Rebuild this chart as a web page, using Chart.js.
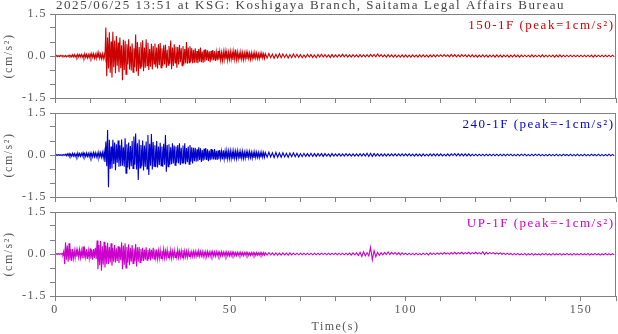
<!DOCTYPE html>
<html lang="en">
<head>
<meta charset="UTF-8">
<title>KSG waveform</title>
<script src="https://cdn.jsdelivr.net/npm/chart.js@4.4.1/dist/chart.umd.min.js"></script>
<style>
  body { margin: 0; background: #fff; }
  #wrap { position: relative; width: 618px; height: 334px; overflow: hidden; }
  #wrap canvas { position: absolute; left: 0; }
</style>
</head>
<body>
<div id="wrap">
  <canvas id="c1" width="618" height="112" style="top:0px"></canvas>
  <canvas id="c2" width="618" height="112" style="top:99px"></canvas>
  <canvas id="c3" width="618" height="136" style="top:198px"></canvas>
</div>
<script>
// traces: 0.25 s steps up to 60 s, 0.5 s steps after
var DT_EARLY = 0.25;
var DT_LATE = 0.5;
var T_SPLIT = 60;
var titleText = '2025/06/25 13:51 at KSG: Koshigaya Branch, Saitama Legal Affairs Bureau';
var compNames = ['150-1F (peak=1cm/s\u00B2)', '240-1F (peak=-1cm/s\u00B2)', 'UP-1F (peak=-1cm/s\u00B2)'];
var compColors = ['#cc0000', '#0000cc', '#cc00cc'];
var xTickLabels = [0, 50, 100, 150];
var yTickLabels = [1.5, 0, -1.5];
var yUnit = '(cm/s\u00B2)';
var xTitle = 'Time(s)';

// 150-1F, 0-60 s, one row = 5 s
var nsEarly = [
  0.01,-0.01,0.02,-0.02,0.01,-0.02,0.02,-0.01,0.02,-0.02,0.01,-0.02,0.02,-0.03,0.01,-0.02,0.03,-0.02,0.02,-0.03,
  0.04,-0.03,0.05,-0.04,0.03,-0.05,0.06,-0.04,0.05,-0.03,0.06,-0.05,0.04,-0.06,0.08,-0.05,0.06,-0.07,0.05,-0.06,
  0.07,-0.06,0.09,-0.05,0.08,-0.08,0.06,-0.09,0.10,-0.07,0.12,-0.08,0.07,-0.09,0.08,-0.10,0.06,-0.08,1.02,-0.72,
  0.66,-0.45,0.85,-0.60,0.52,-0.77,0.87,-0.40,0.55,-0.62,0.71,-0.35,0.48,-0.58,0.66,-0.44,0.38,-0.87,0.58,-0.50,
  0.54,-0.65,0.42,-0.30,0.60,-0.48,0.35,-0.52,0.45,-0.58,0.28,-0.40,0.77,-0.55,0.50,-0.71,0.32,-0.44,0.49,-0.38,
  0.56,-0.54,0.30,-0.42,0.60,-0.35,0.47,-0.50,0.25,-0.38,0.44,-0.48,0.36,-0.28,0.45,-0.40,0.30,-0.45,0.42,-0.33,
  0.46,-0.42,0.28,-0.35,0.38,-0.30,0.40,-0.42,0.22,-0.33,0.36,-0.28,0.55,-0.47,0.30,-0.36,0.42,-0.25,0.33,-0.42,
  0.32,-0.30,0.40,-0.22,0.28,-0.35,0.36,-0.30,0.25,-0.26,0.50,-0.28,0.30,-0.24,0.35,-0.20,0.28,-0.26,0.22,-0.24,
  0.28,-0.24,0.18,-0.26,0.25,-0.20,0.30,-0.22,0.16,-0.24,0.22,-0.20,0.24,-0.15,0.20,-0.18,0.17,-0.22,0.19,-0.16,
  0.21,-0.15,0.17,-0.18,0.14,-0.16,0.18,-0.13,0.16,-0.15,0.12,-0.16,0.15,-0.13,0.17,-0.12,0.14,-0.15,0.13,-0.12,
  0.16,-0.12,0.13,-0.14,0.17,-0.11,0.23,-0.12,0.14,-0.13,0.10,-0.12,0.14,-0.11,0.12,-0.13,0.11,-0.10,0.13,-0.11,
  0.12,-0.09,0.10,-0.12,0.11,-0.10,0.09,-0.11,0.12,-0.08,0.10,-0.09,0.08,-0.10,0.09,-0.08,0.10,-0.07,0.08,-0.09
];
// 150-1F, 60-160 s, one row = 10 s
var nsLate = [
  0.08,-0.07,0.09,-0.06,0.07,-0.08,0.06,-0.07,0.08,-0.06,0.07,-0.05,0.06,-0.07,0.05,-0.06,0.07,-0.05,0.06,-0.05,
  0.05,-0.06,0.04,-0.05,0.06,-0.04,0.05,-0.05,0.04,-0.06,0.05,-0.04,0.06,-0.04,0.05,-0.04,0.04,-0.05,0.05,-0.04,
  0.04,-0.04,0.05,-0.03,0.06,-0.03,0.05,-0.04,0.04,-0.04,0.05,-0.03,0.04,-0.04,0.05,-0.03,0.04,-0.03,0.05,-0.03,
  0.06,-0.02,0.05,-0.03,0.07,-0.02,0.05,-0.03,0.04,-0.04,0.05,-0.03,0.04,-0.04,0.04,-0.04,0.03,-0.04,0.04,-0.04,
  0.04,-0.04,0.03,-0.04,0.04,-0.03,0.03,-0.04,0.04,-0.03,0.04,-0.03,0.03,-0.04,0.04,-0.03,0.04,-0.03,0.04,-0.02,
  0.04,-0.02,0.05,-0.02,0.04,-0.03,0.06,-0.02,0.05,-0.03,0.04,-0.03,0.05,-0.02,0.04,-0.03,0.04,-0.03,0.04,-0.03,
  0.03,-0.04,0.03,-0.03,0.04,-0.03,0.03,-0.04,0.03,-0.03,0.03,-0.04,0.04,-0.03,0.03,-0.04,0.03,-0.03,0.03,-0.04,
  0.03,-0.03,0.04,-0.03,0.03,-0.04,0.03,-0.03,0.03,-0.03,0.03,-0.03,0.04,-0.03,0.03,-0.03,0.03,-0.03,0.04,-0.03,
  0.03,-0.03,0.03,-0.03,0.03,-0.04,0.03,-0.03,0.04,-0.03,0.03,-0.03,0.03,-0.03,0.03,-0.03,0.03,-0.03,0.03,-0.03,
  0.03,-0.03,0.03,-0.03,0.03,-0.03,0.03,-0.04,0.03,-0.03,0.03,-0.03,0.03,-0.03,0.03,-0.03,0.03,-0.03,0.03,-0.03
];

// 240-1F
var ewEarly = [
  0.01,-0.01,0.01,-0.01,0.01,-0.01,0.01,-0.02,0.01,-0.01,0.02,-0.01,0.03,-0.03,0.04,-0.03,0.05,-0.04,0.03,-0.05,
  0.06,-0.04,0.05,-0.05,0.04,-0.06,0.07,-0.04,0.05,-0.05,0.06,-0.04,0.08,-0.05,0.05,-0.06,0.07,-0.05,0.06,-0.06,
  0.07,-0.08,0.06,-0.07,0.09,-0.06,0.08,-0.07,0.06,-0.09,0.10,-0.07,0.08,-0.08,0.09,-0.10,0.12,-0.25,0.48,-0.40,
  0.89,-1.15,0.54,-0.50,0.30,-0.48,0.54,-0.32,0.45,-0.54,0.38,-0.28,0.52,-0.42,0.35,-0.40,0.55,-0.38,0.28,-0.42,
  0.60,-0.65,0.38,-0.45,0.45,-0.52,0.32,-0.40,0.50,-0.48,0.66,-0.35,0.77,-0.52,0.42,-0.89,0.55,-0.46,0.36,-0.40,
  0.52,-0.55,0.34,-0.42,0.48,-0.50,0.71,-0.71,0.40,-0.38,0.75,-0.52,0.46,-0.40,0.35,-0.44,0.50,-0.45,0.30,-0.36,
  0.44,-0.38,0.30,-0.42,0.40,-0.35,0.71,-0.60,0.36,-0.42,0.38,-0.35,0.28,-0.33,0.42,-0.30,0.34,-0.36,0.30,-0.28,
  0.36,-0.30,0.42,-0.36,0.26,-0.28,0.34,-0.30,0.42,-0.33,0.25,-0.26,0.30,-0.33,0.36,-0.24,0.28,-0.30,0.26,-0.22,
  0.26,-0.24,0.20,-0.22,0.28,-0.18,0.24,-0.25,0.18,-0.20,0.22,-0.17,0.25,-0.18,0.20,-0.22,0.16,-0.19,0.21,-0.16,
  0.18,-0.16,0.21,-0.17,0.15,-0.18,0.16,-0.15,0.18,-0.12,0.14,-0.16,0.17,-0.14,0.13,-0.15,0.15,-0.13,0.14,-0.12,
  0.15,-0.13,0.12,-0.15,0.14,-0.11,0.13,-0.12,0.15,-0.10,0.11,-0.13,0.12,-0.11,0.13,-0.12,0.10,-0.11,0.12,-0.10,
  0.11,-0.10,0.12,-0.09,0.10,-0.11,0.09,-0.10,0.11,-0.09,0.10,-0.08,0.09,-0.10,0.08,-0.09,0.10,-0.08,0.09,-0.08
];
var ewLate = [
  0.09,-0.08,0.10,-0.07,0.08,-0.09,0.09,-0.08,0.07,-0.08,0.08,-0.07,0.06,-0.08,0.07,-0.06,0.08,-0.06,0.06,-0.07,
  0.05,-0.06,0.06,-0.05,0.05,-0.05,0.06,-0.05,0.05,-0.05,0.05,-0.04,0.05,-0.05,0.05,-0.04,0.04,-0.05,0.05,-0.04,
  0.04,-0.04,0.05,-0.04,0.04,-0.04,0.05,-0.03,0.04,-0.04,0.04,-0.04,0.04,-0.04,0.05,-0.04,0.05,-0.04,0.06,-0.05,
  0.06,-0.05,0.05,-0.04,0.05,-0.04,0.04,-0.04,0.04,-0.04,0.04,-0.03,0.04,-0.03,0.04,-0.03,0.04,-0.03,0.04,-0.03,
  0.04,-0.03,0.04,-0.03,0.03,-0.04,0.04,-0.03,0.03,-0.04,0.04,-0.03,0.03,-0.03,0.04,-0.03,0.04,-0.03,0.04,-0.03,
  0.04,-0.03,0.03,-0.03,0.04,-0.03,0.04,-0.02,0.05,-0.03,0.05,-0.03,0.04,-0.03,0.04,-0.03,0.04,-0.03,0.03,-0.03,
  0.03,-0.03,0.03,-0.03,0.03,-0.03,0.03,-0.03,0.03,-0.03,0.03,-0.03,0.03,-0.03,0.03,-0.03,0.03,-0.03,0.03,-0.02,
  0.03,-0.03,0.02,-0.03,0.03,-0.03,0.03,-0.02,0.03,-0.03,0.02,-0.03,0.03,-0.03,0.03,-0.02,0.03,-0.03,0.02,-0.03,
  0.02,-0.03,0.03,-0.03,0.02,-0.03,0.03,-0.03,0.02,-0.03,0.03,-0.02,0.02,-0.03,0.03,-0.03,0.02,-0.03,0.03,-0.03,
  0.02,-0.03,0.03,-0.03,0.02,-0.03,0.03,-0.02,0.02,-0.03,0.03,-0.03,0.02,-0.03,0.02,-0.03,0.03,-0.03,0.02,-0.03
];

// UP-1F
var udEarly = [
  0.01,-0.01,0.01,-0.01,0.01,-0.01,0.01,-0.01,0.02,-0.02,0.10,-0.36,0.42,-0.20,0.30,-0.28,0.38,-0.22,0.18,-0.25,
  0.18,-0.15,0.12,-0.14,0.15,-0.10,0.13,-0.12,0.16,-0.13,0.12,-0.15,0.27,-0.16,0.14,-0.12,0.17,-0.18,0.13,-0.15,
  0.20,-0.17,0.15,-0.20,0.18,-0.14,0.22,-0.18,0.48,-0.54,0.32,-0.40,0.46,-0.60,0.28,-0.38,0.44,-0.48,0.30,-0.36,
  0.40,-0.36,0.25,-0.30,0.38,-0.42,0.22,-0.28,0.32,-0.30,0.20,-0.25,0.28,-0.32,0.24,-0.22,0.42,-0.54,0.30,-0.38,
  0.38,-0.50,0.25,-0.30,0.35,-0.40,0.22,-0.28,0.32,-0.34,0.20,-0.26,0.36,-0.45,0.24,-0.28,0.25,-0.30,0.18,-0.24,
  0.22,-0.25,0.16,-0.20,0.24,-0.22,0.14,-0.18,0.20,-0.23,0.15,-0.17,0.22,-0.18,0.16,-0.14,0.16,-0.17,0.12,-0.15,
  0.15,-0.16,0.12,-0.13,0.17,-0.14,0.11,-0.12,0.15,-0.13,0.10,-0.12,0.14,-0.15,0.10,-0.11,0.13,-0.12,0.09,-0.12,
  0.15,-0.12,0.10,-0.11,0.12,-0.13,0.14,-0.12,0.11,-0.10,0.10,-0.12,0.11,-0.09,0.10,-0.10,0.09,-0.09,0.10,-0.08,
  0.10,-0.09,0.08,-0.10,0.11,-0.08,0.09,-0.07,0.09,-0.10,0.07,-0.08,0.08,-0.09,0.09,-0.07,0.07,-0.08,0.08,-0.07,
  0.08,-0.07,0.07,-0.08,0.08,-0.06,0.07,-0.07,0.06,-0.07,0.08,-0.06,0.07,-0.06,0.06,-0.07,0.07,-0.06,0.06,-0.07,
  0.06,-0.06,0.07,-0.05,0.06,-0.06,0.05,-0.06,0.06,-0.05,0.05,-0.05,0.06,-0.05,0.05,-0.06,0.05,-0.04,0.06,-0.05,
  0.05,-0.05,0.04,-0.05,0.05,-0.04,0.05,-0.05,0.04,-0.05,0.05,-0.04,0.04,-0.04,0.05,-0.04,0.04,-0.04,0.05,-0.04
];
var udLate = [
  0.04,-0.04,0.05,-0.03,0.04,-0.04,0.04,-0.04,0.03,-0.04,0.04,-0.03,0.03,-0.04,0.04,-0.03,0.03,-0.03,0.03,-0.03,
  0.03,-0.03,0.03,-0.03,0.03,-0.03,0.03,-0.03,0.03,-0.03,0.03,-0.03,0.03,-0.02,0.03,-0.03,0.03,-0.03,0.03,-0.02,
  0.03,-0.03,0.03,-0.03,0.03,-0.03,0.03,-0.03,0.03,-0.04,0.04,-0.03,0.04,-0.05,0.06,-0.09,0.08,-0.06,0.05,-0.07,
  0.24,-0.21,0.12,-0.10,0.06,-0.05,0.05,-0.03,0.06,-0.02,0.07,-0.02,0.06,-0.01,0.05,-0.02,0.05,-0.03,0.04,-0.02,
  0.03,-0.03,0.03,-0.03,0.02,-0.03,0.03,-0.03,0.02,-0.03,0.03,-0.02,0.03,-0.03,0.04,-0.02,0.03,-0.02,0.04,-0.01,
  0.04,-0.01,0.05,0.00,0.04,-0.01,0.05,0.00,0.06,0.00,0.05,0.01,0.06,0.00,0.05,0.01,0.06,0.00,0.05,0.01,
  0.06,0.01,0.05,0.00,0.08,-0.02,0.06,0.00,0.05,0.01,0.05,0.00,0.04,0.00,0.04,-0.01,0.03,-0.02,0.03,-0.02,
  0.02,-0.03,0.02,-0.03,0.02,-0.03,0.01,-0.03,0.02,-0.04,0.01,-0.03,0.02,-0.04,0.01,-0.03,0.01,-0.04,0.02,-0.03,
  0.02,-0.03,0.01,-0.04,0.02,-0.03,0.01,-0.03,0.02,-0.04,0.01,-0.03,0.02,-0.03,0.01,-0.04,0.02,-0.03,0.01,-0.03,
  0.02,-0.03,0.01,-0.03,0.02,-0.04,0.01,-0.03,0.02,-0.03,0.01,-0.04,0.01,-0.03,0.02,-0.03,0.01,-0.03,0.01,-0.03
];

var traces = [[nsEarly, nsLate], [ewEarly, ewLate], [udEarly, udLate]];
var FONT = '"Liberation Serif", "Times New Roman", serif';
var AXIS_GRAY = '#808080';
var TEXT_GRAY = '#555555';

function toPoints(early, late) {
  var pts = [];
  for (var i = 0; i < early.length; i++) {
    pts.push({ x: i * DT_EARLY, y: early[i] });
  }
  for (var j = 0; j < late.length; j++) {
    pts.push({ x: T_SPLIT + j * DT_LATE, y: late[j] });
  }
  return pts;
}

function isLabelled(v, list) {
  for (var i = 0; i < list.length; i++) {
    if (Math.abs(v - list[i]) < 1e-6) return true;
  }
  return false;
}

// box around plot + component label (+ title on the first panel)
var panelDeco = {
  id: 'panelDeco',
  beforeDraw: function (chart) {
    chart.ctx.letterSpacing = '1.5px';
  },
  afterDraw: function (chart) {
    var ctx = chart.ctx;
    var a = chart.chartArea;
    var idx = chart.options.plugins.panelDeco.index;
    ctx.save();
    ctx.strokeStyle = AXIS_GRAY;
    ctx.lineWidth = 1;
    var l = Math.round(a.left) + 0.5, t = Math.round(a.top) + 0.5;
    var r = Math.round(a.right) - 0.5, b = Math.round(a.bottom) + 0.5;
    ctx.strokeRect(l, t, r - l, b - t);

    ctx.letterSpacing = '1.5px';
    ctx.font = '13px ' + FONT;
    ctx.fillStyle = compColors[idx];
    ctx.textAlign = 'right';
    ctx.textBaseline = 'alphabetic';
    ctx.fillText(compNames[idx], a.right - 1.5, a.top + 15);

    if (idx === 0) {
      ctx.font = '13px ' + FONT;
      ctx.letterSpacing = '1.55px';
      ctx.fillStyle = '#444444';
      ctx.textAlign = 'left';
      ctx.fillText(titleText, 56, 9);
    }
    ctx.restore();
  }
};

function makePanel(canvasId, idx, last) {
  var ctx = document.getElementById(canvasId);
  return new Chart(ctx, {
    type: 'line',
    data: {
      datasets: [{
        data: toPoints(traces[idx][0], traces[idx][1]),
        borderColor: compColors[idx],
        borderWidth: 1.1,
        pointRadius: 0,
        tension: 0
      }]
    },
    options: {
      responsive: false,
      animation: false,
      layout: { padding: { top: 14, right: 2, left: 0, bottom: 0 } },
      plugins: {
        legend: { display: false },
        tooltip: { enabled: false },
        panelDeco: { index: idx }
      },
      scales: {
        x: {
          type: 'linear',
          min: 0,
          max: 160,
          afterFit: function (s) { s.height = last ? 38 : 14; },
          border: { display: false },
          grid: { drawOnChartArea: false, tickLength: 5, color: AXIS_GRAY },
          ticks: {
            stepSize: 10,
            autoSkip: false,
            maxRotation: 0,
            padding: 2,
            color: TEXT_GRAY,
            font: { family: FONT, size: 12 },
            callback: function (v) {
              return (last && isLabelled(v, xTickLabels)) ? String(v) : '';
            }
          },
          title: {
            display: last,
            text: xTitle,
            color: TEXT_GRAY,
            font: { family: FONT, size: 12 },
            padding: { top: 0, bottom: 0 }
          }
        },
        y: {
          min: -1.5,
          max: 1.5,
          afterFit: function (s) { s.width = 55; },
          border: { display: false },
          grid: { drawOnChartArea: false, tickLength: 5, color: AXIS_GRAY },
          ticks: {
            stepSize: 0.5,
            autoSkip: false,
            padding: 3,
            color: TEXT_GRAY,
            font: { family: FONT, size: 12 },
            callback: function (v) {
              if (!isLabelled(v, yTickLabels)) return '';
              return (v < -1e-6 ? '-' : '') + Math.abs(v).toFixed(1);
            }
          },
          title: {
            display: true,
            text: yUnit,
            color: TEXT_GRAY,
            font: { family: FONT, size: 12 },
            padding: { top: 2, bottom: 0 }
          }
        }
      }
    },
    plugins: [panelDeco]
  });
}

makePanel('c1', 0, false);
makePanel('c2', 1, false);
makePanel('c3', 2, true);
</script>
</body>
</html>
